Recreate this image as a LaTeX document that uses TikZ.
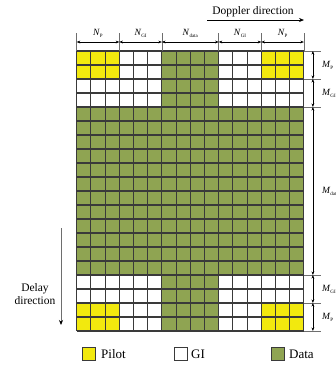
\documentclass[tikz,border=0pt]{standalone}
\usepackage{fontspec}
\setmainfont{Liberation Serif}
\usetikzlibrary{arrows.meta,calc}
\definecolor{pilot}{HTML}{F2E90E}
\definecolor{payload}{HTML}{8FA452}
\definecolor{gridink}{HTML}{3A3A3A}
\definecolor{tickgray}{HTML}{6E6E6E}
\newcommand{\lbl}{\fontsize{11.5}{13}\selectfont}
\newcommand{\dimfont}{\fontsize{9.5}{11}\selectfont}
\newcommand{\legfont}{\fontsize{13}{15}\selectfont}
\newcommand{\dimlbl}[2]{\textit{#1}\raisebox{-0.45ex}{\fontsize{5}{6}\selectfont #2}}

\begin{document}
\begin{tikzpicture}[x=1pt,y=-1pt,font=\lbl,
  dimarrow/.style={line width=0.5pt,{Stealth[length=3.6pt,width=2.8pt]}-{Stealth[length=3.6pt,width=2.8pt]}},
  ticker/.style={tickgray,line width=0.6pt},
  cellline/.style={gridink,line width=1.1pt},
  legbox/.style={draw=gridink,line width=0.8pt,minimum size=13pt,inner sep=0}]
\useasboundingbox (0,0) rectangle (336,365);
\def\gx{76.7} \def\gy{51} \def\cw{14.2} \def\ch{14}
% frame: white grid, green cross, yellow corners
\fill[white] (\gx,\gy) rectangle ++(16*\cw,20*\ch);
\fill[payload] (\gx+6*\cw,\gy) rectangle ++(4*\cw,20*\ch);
\fill[payload] (\gx,\gy+4*\ch) rectangle ++(16*\cw,12*\ch);
\foreach \cc/\rr in {0/0,13/0,0/18,13/18}
  \fill[pilot] (\gx+\cc*\cw,\gy+\rr*\ch) rectangle ++(3*\cw,2*\ch);
\foreach \cc in {0,...,16} \draw[cellline] (\gx+\cc*\cw,\gy) -- ++(0,20*\ch);
\foreach \rr in {0,...,20} \draw[cellline] (\gx,\gy+\rr*\ch) -- ++(16*\cw,0);
% column widths
\foreach \cc [count=\i] in {0,3,6,10,13,16} {
  \coordinate (col\i) at (\gx+\cc*\cw,\gy);
  \draw[ticker] (col\i) -- ++(0,-18);
}
\foreach \a/\b/\s in {1/2/P,2/3/GI,3/4/data,4/5/GI,5/6/P} {
  \draw[dimarrow] ($(col\a)+(0,-9)$) -- ($(col\b)+(0,-9)$);
  \node[inner sep=0,font=\dimfont] (ncol\a) at ($(col\a)!.5!(col\b)+(0,-18)$) {\dimlbl{N}{\s}};
}
% row heights
\foreach \rr [count=\i] in {0,2,4,16,18,20} {
  \coordinate (row\i) at (\gx+16*\cw,\gy+\rr*\ch);
  \draw[ticker] (row\i) -- ++(17,0);
}
\foreach \a/\b/\s in {1/2/P,2/3/GI,3/4/data,4/5/GI,5/6/P} {
  \draw[dimarrow] ($(row\a)+(9,0)$) -- ($(row\b)+(9,0)$);
  \node[anchor=west,inner sep=0,font=\dimfont] (mrow\a) at ($(row\a)!.5!(row\b)+(18,0)$) {\dimlbl{M}{\s}};
}
% directions
\node[inner sep=0] (doppler) at (253,12) {Doppler direction};
\coordinate (dopplerA) at (207,20);
\coordinate (dopplerB) at (304,20);
\draw[line width=0.7pt,-{Stealth[length=5pt,width=4pt]}] (dopplerA) -- (dopplerB);
\node[inner sep=0,align=center] (delay) at (35,294) {Delay\\direction};
\coordinate (delayA) at (61,228);
\coordinate (delayB) at (61,325);
\draw[tickgray,line width=0.8pt,-{Stealth[length=5pt,width=4pt,color=black]}] (delayA) -- (delayB);
% legend
\node[legbox,fill=pilot] (legpilot) at (89,354) {};
\node[anchor=west,inner sep=0,font=\legfont] (txtpilot) at (101,354) {Pilot};
\node[legbox,fill=white] (leggi) at (180.5,354) {};
\node[anchor=west,inner sep=0,font=\legfont] (txtgi) at (191,354) {GI};
\node[legbox,fill=payload] (legdata) at (277.5,354) {};
\node[anchor=west,inner sep=0,font=\legfont] (txtdata) at (289,354) {Data};
\end{tikzpicture}
\end{document}
